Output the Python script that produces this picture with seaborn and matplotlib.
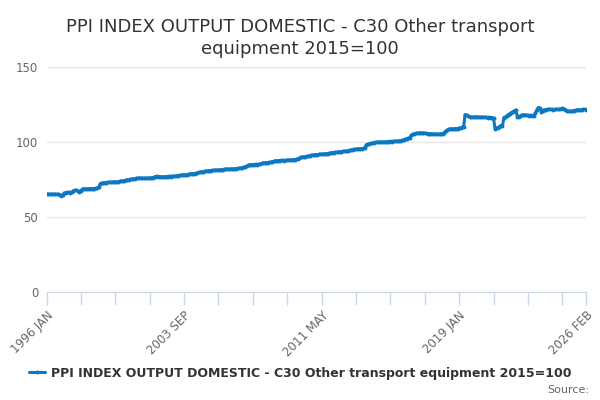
import numpy as np
import pandas as pd
import matplotlib
matplotlib.use("Agg")
import matplotlib.pyplot as plt
import seaborn as sns

sns.set_style("white")
plt.rcParams['font.family'] = ['DejaVu Sans']

# Monthly index values, one list per year
y1996 = [65.3, 65.3, 65.2, 65.2, 65.3, 65.2, 65.2, 65.1, 65.2, 64.9, 64.2, 64.8]
y1997 = [66.0, 66.3, 66.4, 66.4, 66.3, 66.5, 67.6, 67.8, 67.8, 67.6, 67.0, 67.3]
y1998 = [68.6, 68.8, 68.8, 68.7, 68.8, 68.9, 69.0, 68.9, 69.0, 69.1, 69.3, 70.0]
y1999 = [72.3, 72.6, 72.7, 72.8, 73.0, 73.1, 73.2, 73.1, 73.3, 73.4, 73.5, 73.5]
y2000 = [73.6, 73.8, 74.0, 74.1, 74.3, 74.6, 74.8, 74.9, 75.1, 75.3, 75.4, 75.5]
y2001 = [75.8, 75.9, 76.0, 75.9, 76.0, 75.9, 75.8, 76.0, 75.9, 76.0, 76.1, 76.2]
y2002 = [76.5, 77.0, 77.1, 77.0, 76.9, 76.8, 76.7, 76.9, 76.8, 77.0, 77.1, 77.0]
y2003 = [77.2, 77.3, 77.2, 77.4, 77.6, 77.8, 77.9, 78.0, 78.1, 78.2, 78.3, 78.5]
y2004 = [78.7, 78.8, 79.0, 78.9, 79.1, 79.4, 79.7, 80.0, 80.1, 80.3, 80.5, 80.6]
y2005 = [80.8, 81.0, 81.0, 81.1, 81.2, 81.3, 81.3, 81.4, 81.5, 81.5, 81.6, 81.8]
y2006 = [82.0, 82.0, 81.8, 82.0, 82.1, 82.1, 82.2, 82.3, 82.4, 82.5, 82.7, 83.0]
y2007 = [83.2, 83.6, 84.0, 84.5, 84.8, 84.9, 85.0, 85.0, 85.1, 85.0, 85.2, 85.3]
y2008 = [85.7, 86.0, 86.1, 86.3, 86.2, 86.4, 86.6, 86.9, 87.2, 87.4, 87.5, 87.6]
y2009 = [87.6, 87.7, 87.8, 87.6, 87.8, 87.9, 88.0, 87.9, 88.1, 88.2, 88.3, 88.4]
y2010 = [88.6, 89.2, 89.8, 90.0, 90.1, 90.2, 90.4, 90.6, 90.9, 91.1, 91.3, 91.4]
y2011 = [91.5, 91.6, 91.7, 91.9, 92.0, 92.0, 92.1, 92.2, 92.3, 92.5, 92.7, 92.9]
y2012 = [93.0, 93.1, 93.2, 93.3, 93.5, 93.6, 93.7, 93.8, 93.9, 94.1, 94.3, 94.5]
y2013 = [94.7, 95.0, 95.2, 95.3, 95.4, 95.5, 95.5, 95.6, 95.7, 95.8, 98.2, 98.6]
y2014 = [98.8, 99.1, 99.3, 99.5, 99.7, 99.9, 100.0, 100.0, 100.1, 100.0, 100.1, 100.2]
y2015 = [100.2, 100.3, 100.4, 100.3, 100.4, 100.5, 100.5, 100.6, 100.8, 101.0, 101.1, 101.4]
y2016 = [101.8, 102.2, 102.5, 102.7, 104.5, 105.2, 105.5, 105.7, 105.8, 106.0, 106.1, 106.0]
y2017 = [106.0, 105.8, 105.7, 105.6, 105.5, 105.5, 105.4, 105.4, 105.3, 105.3, 105.2, 105.3]
y2018 = [105.4, 105.6, 106.3, 107.2, 108.0, 108.5, 108.7, 108.8, 108.7, 108.9, 109.0, 108.9]
y2019 = [109.2, 109.5, 109.8, 110.0, 118.3, 118.0, 117.3, 116.8, 116.6, 116.5, 116.7, 116.8]
y2020 = [116.7, 116.6, 116.5, 116.6, 116.5, 116.4, 116.5, 116.3, 116.4, 116.3, 116.2, 116.0]
y2021 = [109.0, 109.2, 109.6, 110.3, 111.0, 110.8, 116.3, 116.6, 117.5, 118.3, 119.0, 119.6]
y2022 = [120.2, 120.8, 121.3, 116.5, 117.0, 117.5, 118.0, 118.2, 118.1, 117.9, 117.8, 117.6]
y2023 = [117.8, 117.4, 117.2, 119.4, 121.5, 123.0, 122.5, 120.3, 121.0, 121.4, 121.6, 121.7]
y2024 = [121.8, 121.7, 121.8, 121.6, 121.7, 121.8, 121.7, 121.9, 122.0, 122.5, 122.2, 121.6]
y2025 = [121.0, 120.6, 120.4, 120.5, 120.8, 121.0, 121.2, 121.4, 121.5, 121.3, 121.6, 121.8]
y2026 = [121.7, 121.6]

years = [y1996, y1997, y1998, y1999, y2000, y2001, y2002, y2003, y2004, y2005,
         y2006, y2007, y2008, y2009, y2010, y2011, y2012, y2013, y2014, y2015,
         y2016, y2017, y2018, y2019, y2020, y2021, y2022, y2023, y2024, y2025, y2026]
values = [v for yr in years for v in yr]

tick_labels = ["1996 JAN", "2003 SEP", "2011 MAY", "2019 JAN", "2026 FEB"]
series_name = "PPI INDEX OUTPUT DOMESTIC - C30 Other transport equipment 2015=100"

df = pd.DataFrame({"month": np.arange(len(values)), "value": values})

fig = plt.figure(figsize=(6, 4), dpi=100)
ax = fig.add_axes([0.0775, 0.27, 0.8995, 0.5625])

sns.lineplot(data=df, x="month", y="value", ax=ax, color="#0b78c1",
             linewidth=2.2, marker="o", markersize=2.8, markeredgewidth=0,
             label=series_name)

n = len(values)
ax.set_xlim(0, n - 1)
ax.set_ylim(0, 150)
ax.set_yticks([0, 50, 100, 150])
ax.yaxis.grid(True, color="#e6e6e6", linewidth=1)
ax.set_axisbelow(True)

# labelled ticks every 92 months plus the last month, plain ticks every 23
major = [0, 92, 184, 276, n - 1]
minor = [m for m in range(0, n, 23) if m not in major]
ax.set_xticks(major)
ax.set_xticklabels(tick_labels, rotation=45, ha="right", va="top",
                   rotation_mode="anchor", color="#666666", fontsize=8.5)
ax.set_xticks(minor, minor=True)
ax.tick_params(axis="x", which="both", bottom=True, length=9, width=1,
               color="#ccd6eb", direction="out", pad=3)
ax.tick_params(axis="y", left=False, length=0, labelcolor="#666666",
               labelsize=8.5, pad=6)

for s in ["top", "right", "left"]:
    ax.spines[s].set_visible(False)
ax.spines["bottom"].set_color("#ccd6eb")
ax.set_xlabel("")
ax.set_ylabel("")

fig.text(0.5, 0.955, "PPI INDEX OUTPUT DOMESTIC - C30 Other transport\nequipment 2015=100",
         ha="center", va="top", fontsize=13, color="#333333", linespacing=1.25)

leg = ax.legend(loc="center", bbox_to_anchor=(0.5, 0.0675), bbox_transform=fig.transFigure,
                frameon=False, fontsize=9, handlelength=1.3, handletextpad=0.5)
for t in leg.get_texts():
    t.set_color("#333333")
    t.set_fontweight("bold")

fig.text(0.982, 0.025, "Source:", ha="right", va="center", fontsize=8, color="#666666")

fig.savefig("out.png", dpi=100)
